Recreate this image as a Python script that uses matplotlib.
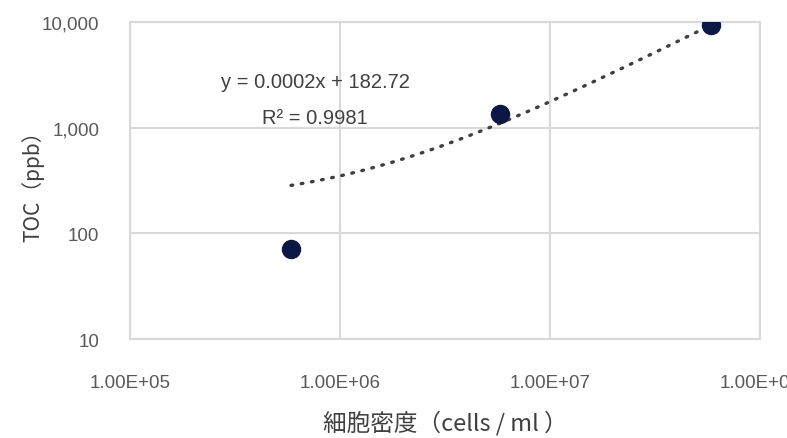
import matplotlib
matplotlib.use("Agg")
import matplotlib.pyplot as plt
import numpy as np
from matplotlib.ticker import FixedLocator, FixedFormatter

# data
cells = [5.85e5, 5.8e6, 5.8e7]
toc = [71, 1340, 9300]
x_ticks = [1e5, 1e6, 1e7, 1e8]
x_labels = ["1.00E+05", "1.00E+06", "1.00E+07", "1.00E+08"]
y_ticks = [10, 100, 1000, 10000]
y_labels = ["10", "100", "1,000", "10,000"]
eq_text = "y = 0.0002x + 182.72"
r2_text = "R² = 0.9981"

num_font = ["Liberation Sans", "DejaVu Sans"]
jp = ["Noto Sans CJK JP", "DejaVu Sans"]
grid_c = "#d9d9d9"
text_c = "#595959"

fig = plt.figure(figsize=(7.87, 4.39), dpi=100)
ax = fig.add_axes([0.165, 0.2255, 0.801, 0.722])
ax.set_xscale("log")
ax.set_yscale("log")
ax.set_xlim(1e5, 1e8)
ax.set_ylim(10, 10000)

# linear trendline, drawn on log axes
slope, icpt = np.polyfit(cells, toc, 1)
xs = np.logspace(np.log10(min(cells)), np.log10(max(cells)), 200)
ax.plot(xs, slope * xs + icpt, color="#3f3f3f", lw=2.4,
        linestyle=(0, (0.5, 2.6)), dash_capstyle="round", zorder=2)

ax.plot(cells, toc, "o", color="#0b1845", markersize=13, zorder=3)

ax.xaxis.set_major_locator(FixedLocator(x_ticks))
ax.xaxis.set_major_formatter(FixedFormatter(x_labels))
ax.yaxis.set_major_locator(FixedLocator(y_ticks))
ax.yaxis.set_major_formatter(FixedFormatter(y_labels))
ax.xaxis.set_minor_locator(FixedLocator([]))
ax.yaxis.set_minor_locator(FixedLocator([]))
ax.tick_params(axis="both", length=0, labelcolor=text_c)
ax.tick_params(axis="x", pad=25)
ax.tick_params(axis="y", pad=22)
for lab in ax.get_xticklabels() + ax.get_yticklabels():
    lab.set_family(num_font)
    lab.set_fontsize(13.5)

ax.grid(True, color=grid_c, lw=1.5)
for sp in ax.spines.values():
    sp.set_color(grid_c)
    sp.set_linewidth(1.5)
ax.set_axisbelow(True)

ax.text(0.294, 0.814, eq_text, transform=ax.transAxes, ha="center", va="center",
        family=num_font, fontsize=14.5, color="#404040")
ax.text(0.294, 0.70, r2_text, transform=ax.transAxes, ha="center", va="center",
        family=num_font, fontsize=14.5, color="#404040")

ax.set_xlabel("細胞密度（cells / ml ）", family=jp, fontsize=17, color="#404040", labelpad=14)
ax.set_ylabel("TOC（ppb）", family=jp, fontsize=15, color="#404040")
ax.yaxis.set_label_coords(-0.135, 0.5)

fig.savefig("out.png", dpi=100)
